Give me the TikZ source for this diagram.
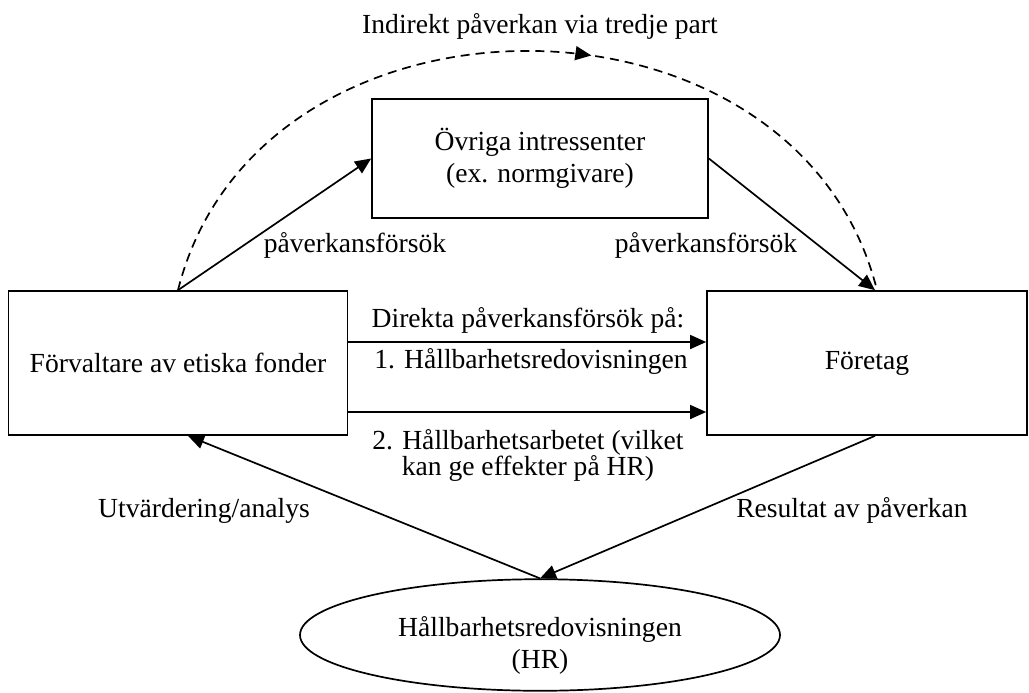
\documentclass[tikz,border=0pt]{standalone}
\usepackage{fontspec}
\setmainfont{Liberation Serif}
\usetikzlibrary{arrows.meta,shapes.geometric,decorations.markings}
\tikzset{>={Triangle[length=8pt,width=7pt]}}
\tikzset{
  box/.style={draw,rectangle,align=center,inner sep=0pt},
  oval/.style={draw,ellipse,align=center,inner sep=0pt},
  lbl/.style={inner sep=0pt,align=center},
  midarrow/.style={postaction={decorate},decoration={markings,mark=at position 0.57 with {\arrow{>}}}},
}

\begin{document}
\begin{tikzpicture}[x=0.5pt,y=-0.5pt,line width=0.85pt,font=\fontsize{13.8}{16}\selectfont]
  \useasboundingbox (0,0) rectangle (1029,692);
  \node[box,minimum width=169.5pt,minimum height=72pt] (fund) at (178,363) {Förvaltare av etiska fonder};
  \node[box,minimum width=160pt,minimum height=72pt] (comp) at (867,363) {Företag};
  \node[box,minimum width=168pt,minimum height=59.5pt] (other) at (540,158.5) {Övriga intressenter\\(ex. normgivare)};
  \node[oval,minimum width=240pt,minimum height=55pt] (hr) at (540,635) {\rule{0pt}{20.5pt}Hållbarhetsredovisningen\\(HR)};
  \draw[->] (fund.north) -- (other.west);
  \draw[->] (other.east) -- ([xshift=4pt]comp.north);
  \draw[dash pattern=on 4.5pt off 3pt,midarrow] (fund.north) .. controls +(80,-319) and +(-80,-319) .. ([xshift=5pt]comp.north);
  \draw[->] ([yshift=10.5pt]fund.east) -- ([yshift=10.5pt]comp.west);
  \draw[->] ([yshift=-24.5pt]fund.east) -- ([yshift=-24.5pt]comp.west);
  \draw[->] (hr.north) -- ([xshift=5pt]fund.south);
  \draw[->] ([xshift=4pt]comp.south) -- (hr.north);
  \node[lbl,anchor=base] (indirect) at (540,33) {Indirekt påverkan via tredje part};
  \node[lbl,anchor=base west] (tryleft) at (263,252) {påverkansförsök};
  \node[lbl,anchor=base east] (tryright) at (798,252) {påverkansförsök};
  \node[lbl,anchor=base] (direct) at (528,327) {Direkta påverkansförsök på:};
  \node[lbl,anchor=base] (first) at (531,368) {1. Hållbarhetsredovisningen};
  \node[lbl,anchor=base,font=\fontsize{13.8}{13}\selectfont] (second) at (528,475) {2. Hållbarhetsarbetet (vilket\\kan ge effekter på HR)};
  \node[lbl,anchor=base] (evaluate) at (204,517) {Utvärdering/analys};
  \node[lbl,anchor=base] (result) at (852,517) {Resultat av påverkan};
\end{tikzpicture}
\end{document}
